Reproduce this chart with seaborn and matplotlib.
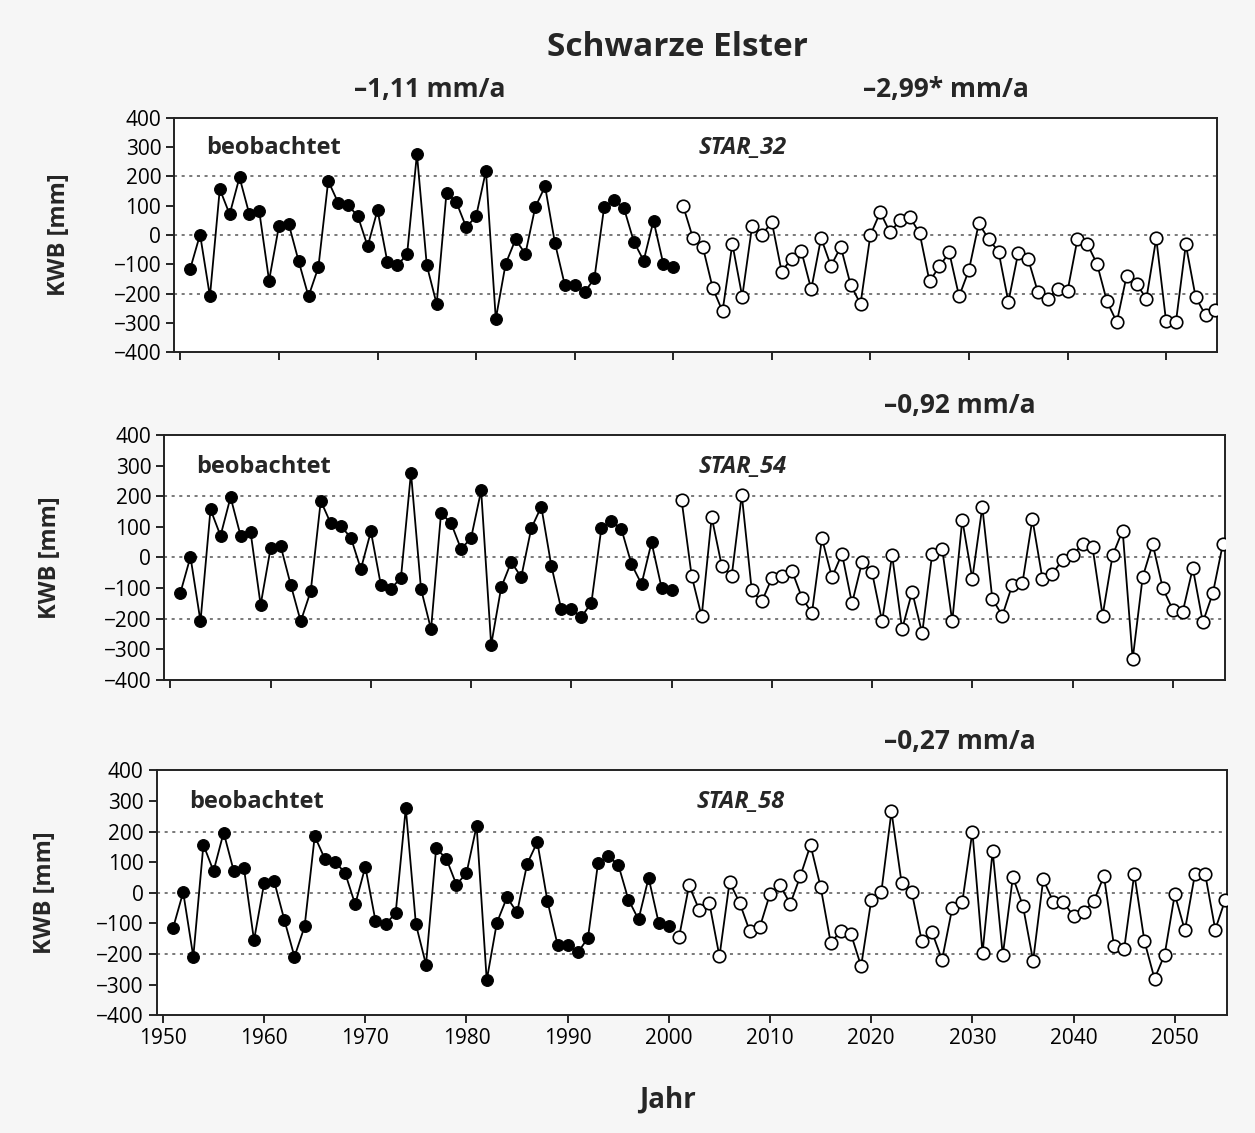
import numpy as np
import pandas as pd
import matplotlib
matplotlib.use("Agg")
import matplotlib.pyplot as plt
import seaborn as sns

years_obs = list(range(1951, 2001))
years_sim = list(range(2001, 2056))

kwb_obs = [-115, 2, -209, 157, 71, 197, 71, 82, -155, 31,
           37, -89, -209, -110, 185, 111, 102, 65, -38, 85,
           -91, -103, -66, 277, -103, -235, 145, 112, 27, 64,
           219, -286, -98, -15, -64, 95, 166, -27, -170, -170,
           -195, -148, 97, 119, 92, -22, -87, 49, -99, -108]

star_32 = [100, -10, -40, -180, -260, -30, -210, 30, 0, 45,
           -125, -80, -55, -185, -10, -105, -40, -170, -235, 0,
           78, 9, 51, 62, 6, -158, -107, -59, -209, -119,
           40, -14, -56, -228, -60, -81, -195, -217, -183, -191,
           -15, -30, -99, -226, -297, -138, -166, -217, -11, -294,
           -296, -32, -212, -273, -254]

star_54 = [187, -60, -193, 132, -27, -60, 205, -108, -144, -68,
           -62, -43, -131, -182, 63, -65, 12, -150, -16, -49,
           -209, 7, -234, -112, -248, 12, 27, -209, 123, -70,
           165, -136, -190, -89, -84, 125, -70, -53, -8, 7,
           44, 33, -190, 7, 88, -333, -64, 44, -100, -171,
           -177, -35, -212, -117, 44]

star_58 = [-146, 24, -56, -33, -208, 35, -33, -126, -111, -3,
           24, -36, 55, 156, 19, -164, -124, -135, -240, -25,
           3, 266, 33, 3, -158, -128, -219, -51, -30, 200,
           -197, 137, -204, 52, -44, -222, 44, -30, -30, -77,
           -62, -27, 55, -175, -183, 62, -158, -281, -202, -5,
           -123, 62, 62, -120, -22]

scenarios = ["STAR_32", "STAR_54", "STAR_58"]
trend_obs = "\u20131,11 mm/a"
trend_sim = ["\u20132,99* mm/a", "\u20130,92 mm/a", "\u20130,27 mm/a"]
x_ticks = [1950, 1960, 1970, 1980, 1990, 2000, 2010, 2020, 2030, 2040, 2050]
y_ticks = [-400, -300, -200, -100, 0, 100, 200, 300, 400]

sns.set_style("ticks")
plt.rcParams["font.family"] = ["Open Sans", "DejaVu Sans"]

fig = plt.figure(figsize=(12.55, 11.33), dpi=100, facecolor="#f6f6f6")

# panel boxes in figure fraction (the photo is slightly skewed)
boxes = [
    [0.139, 0.689, 0.831, 0.207],
    [0.131, 0.400, 0.845, 0.216],
    [0.125, 0.104, 0.853, 0.216],
]
ylabel_x = [-0.099, -0.097, -0.093]

obs_df = pd.DataFrame({"Jahr": years_obs, "KWB": kwb_obs})
sim_series = [star_32, star_54, star_58]

for i, (box, name, sim) in enumerate(zip(boxes, scenarios, sim_series)):
    ax = fig.add_axes(box)
    ax.set_facecolor("white")
    sim_df = pd.DataFrame({"Jahr": years_sim, "KWB": sim})

    for yv in [-200, 0, 200]:
        ax.axhline(yv, color="#555555", lw=1.1, ls=(0, (2, 3)), zorder=0)

    sns.lineplot(data=obs_df, x="Jahr", y="KWB", ax=ax, color="black", lw=1.3,
                 marker="o", markersize=8.5, markerfacecolor="black",
                 markeredgecolor="black", zorder=3)
    sns.lineplot(data=sim_df, x="Jahr", y="KWB", ax=ax, color="black", lw=1.3,
                 marker="o", markersize=9, markerfacecolor="white",
                 markeredgecolor="black", markeredgewidth=1.2, zorder=3)

    ax.set_xlim(1949.4, 2055.2)
    ax.set_ylim(-400, 400)
    ax.set_xticks(x_ticks)
    ax.set_yticks(y_ticks)
    ax.tick_params(axis="both", direction="out", length=6, width=1.2,
                   labelsize=15, colors="black")
    for s in ax.spines.values():
        s.set_linewidth(1.4)
        s.set_color("#222222")

    ax.set_ylabel("KWB [mm]", fontsize=17, fontweight="bold")
    ax.yaxis.set_label_coords(ylabel_x[i], 0.5)
    ax.set_xlabel("")
    if i < 2:
        ax.set_xticklabels([])

    ax.text(0.03, 0.87, "beobachtet", transform=ax.transAxes, fontsize=17,
            fontweight="bold", ha="left", va="center")
    ax.text(0.545, 0.87, name, transform=ax.transAxes, fontsize=17,
            fontweight="bold", fontstyle="italic", ha="center", va="center")

    if i == 0:
        ax.text(0.245, 1.12, trend_obs, transform=ax.transAxes, fontsize=19,
                fontweight="bold", ha="center", va="center")
        ax.text(0.74, 1.12, trend_sim[i], transform=ax.transAxes, fontsize=19,
                fontweight="bold", ha="center", va="center")
    else:
        ax.text(0.75, 1.12, trend_sim[i], transform=ax.transAxes, fontsize=19,
                fontweight="bold", ha="center", va="center")

fig.text(0.54, 0.958, "Schwarze Elster", fontsize=24, fontweight="bold",
         ha="center", va="center")
fig.text(0.532, 0.029, "Jahr", fontsize=20, fontweight="bold",
         ha="center", va="center")

fig.savefig("out.png", dpi=100, facecolor=fig.get_facecolor())
